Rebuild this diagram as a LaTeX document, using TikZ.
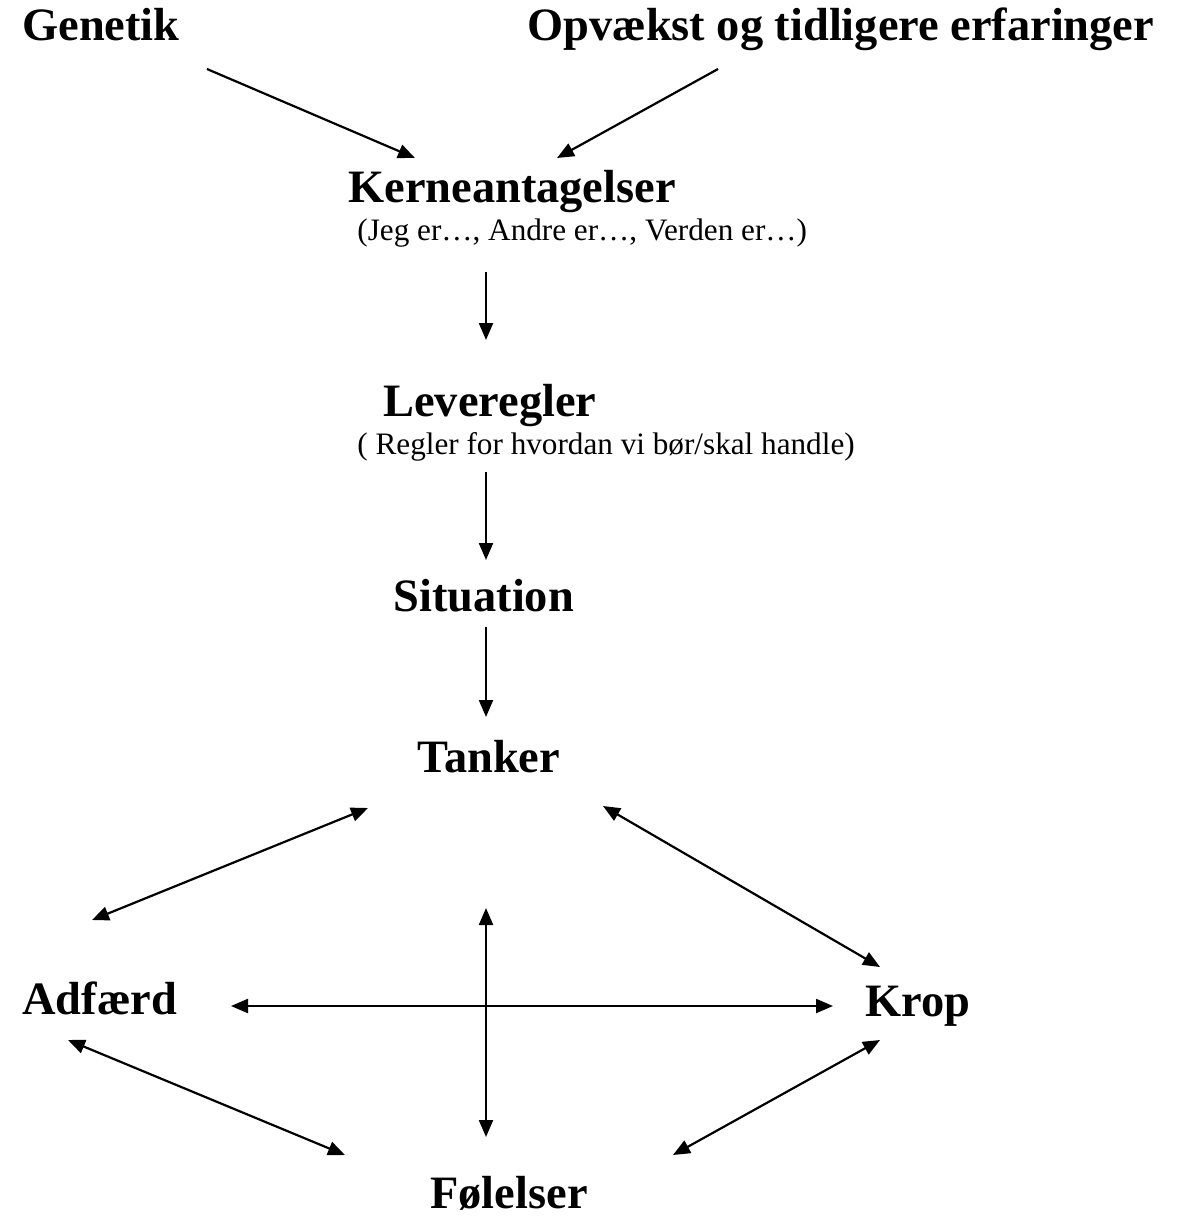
\documentclass[tikz,border=0pt]{standalone}
\usepackage{fontspec}
\setmainfont{Liberation Serif}
\usetikzlibrary{arrows.meta}
\begin{document}
\begin{tikzpicture}[x=0.5pt,y=-0.5pt,
  big/.style={font=\fontsize{23.2}{28}\selectfont\bfseries, inner sep=0pt, anchor=base west},
  small/.style={font=\fontsize{15.6}{19}\selectfont, inner sep=0pt, anchor=base west},
  tip/.tip={Triangle[length=8.5pt,width=7pt]},
  arr/.style={line width=1.1pt, -tip},
  darr/.style={line width=1.1pt, tip-tip}]
\useasboundingbox[fill=white] (0,0) rectangle (1184,1216);
% text nodes
\node[big] (gen) at (22,40) {Genetik};
\node[big] (opv) at (527,40) {Opvækst og tidligere erfaringer};
\node[big] (ker) at (348,202) {Kerneantagelser};
\node[small] (kers) at (357,240) {(Jeg er…, Andre er…, Verden er…)};
\node[big] (lev) at (383,416) {Leveregler};
\node[small] (levs) at (357,454) {( Regler for hvordan vi bør/skal handle)};
\node[big] (sit) at (393,611) {Situation};
\node[big] (tan) at (417,772) {Tanker};
\node[big] (adf) at (22,1014) {Adfærd};
\node[big] (kro) at (865,1016) {Krop};
\node[big] (fol) at (430,1208) {Følelser};
% connector end points
\coordinate (g1) at (207,69);   \coordinate (g2) at (415,158);
\coordinate (o1) at (718,69);   \coordinate (o2) at (557,158);
\coordinate (k1) at (486,272);  \coordinate (k2) at (486,340);
\coordinate (l1) at (486,472);  \coordinate (l2) at (486,560);
\coordinate (s1) at (486,627);  \coordinate (s2) at (486,717);
\coordinate (ta1) at (368,808); \coordinate (ta2) at (92,920);
\coordinate (tk1) at (603,806); \coordinate (tk2) at (880,967);
\coordinate (v1) at (486,908);  \coordinate (v2) at (486,1137);
\coordinate (h1) at (231,1006); \coordinate (h2) at (833,1006);
\coordinate (af1) at (68,1040); \coordinate (af2) at (345,1155);
\coordinate (kf1) at (880,1040);\coordinate (kf2) at (673,1155);
% connectors
\draw[arr] (g1) -- (g2);
\draw[arr] (o1) -- (o2);
\draw[arr] (k1) -- (k2);
\draw[arr] (l1) -- (l2);
\draw[arr] (s1) -- (s2);
\draw[darr] (ta1) -- (ta2);
\draw[darr] (tk1) -- (tk2);
\draw[darr] (v1) -- (v2);
\draw[darr] (h1) -- (h2);
\draw[darr] (af1) -- (af2);
\draw[darr] (kf1) -- (kf2);
\end{tikzpicture}
\end{document}
